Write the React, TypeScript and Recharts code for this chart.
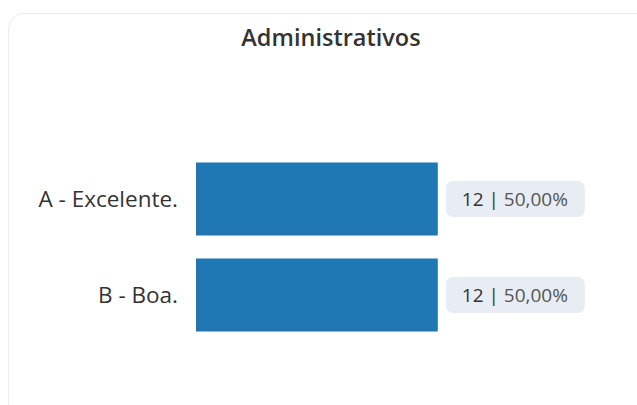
import { BarChart, Bar, XAxis, YAxis, LabelList } from 'recharts'

const categories = ['A - Excelente.', 'B - Boa.']
const counts = [12, 12]
const percents = ['50,00%', '50,00%']

const data = categories.map((name, i) => ({ name, value: counts[i], pct: percents[i] }))

const FONT = '"Open Sans", "Noto Sans", sans-serif'

// badge drawn to the right of each bar: "12 | 50,00%"
function Badge(props: any) {
  const { x, y, width, height, index } = props
  const bx = x + width + 8
  const cy = y + height / 2
  return (
    <g>
      <rect x={bx} y={cy - 18} width={139} height={36} rx={7} ry={7} fill="#e8edf3" />
      <text x={bx + 16} y={cy} dy="0.36em" fontSize={19} fontFamily={FONT}>
        <tspan fill="#333">{counts[index]} | </tspan>
        <tspan fill="#555">{percents[index]}</tspan>
      </text>
    </g>
  )
}

export default function App() {
  return (
    <div style={{ position: 'absolute', left: 0, top: 0, width: 637, height: 405, overflow: 'hidden', background: '#fff' }}>
      <div
        style={{
          position: 'absolute',
          left: 8,
          top: 13,
          width: 680,
          height: 440,
          border: '1px solid #ececec',
          borderRadius: 16,
          boxSizing: 'border-box',
        }}
      />
      <div
        style={{
          position: 'absolute',
          left: 0,
          width: 662,
          top: 22,
          lineHeight: '30px',
          textAlign: 'center',
          fontFamily: FONT,
          fontSize: 23.5,
          fontWeight: 600,
          color: '#333',
        }}
      >
        Administrativos
      </div>
      <div style={{ position: 'absolute', left: 0, top: 0 }}>
        <BarChart
          width={637}
          height={405}
          data={data}
          layout="vertical"
          barCategoryGap="12%"
          margin={{ top: 151, right: 38, bottom: 62, left: 16 }}
        >
          <XAxis type="number" domain={[0, 20]} hide />
          <YAxis
            type="category"
            dataKey="name"
            width={180}
            axisLine={false}
            tickLine={false}
            tickMargin={12}
            tick={{ fill: '#333', fontSize: 22.5, fontFamily: FONT }}
          />
          <Bar dataKey="value" fill="#1f77b4" isAnimationActive={false}>
            <LabelList dataKey="value" content={<Badge />} />
          </Bar>
        </BarChart>
      </div>
    </div>
  )
}
